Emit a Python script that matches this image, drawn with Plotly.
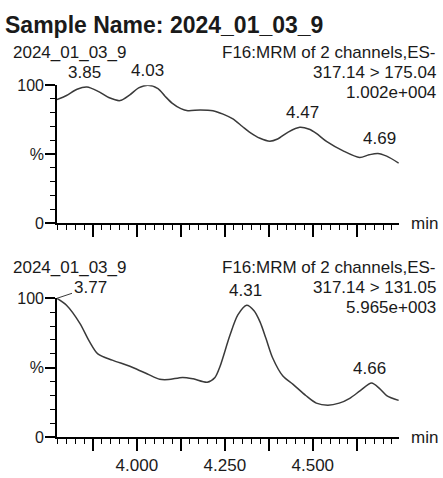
import plotly.graph_objects as go

# Chromatogram 1: MRM 317.14 > 175.04
t_175 = [3.773, 3.80, 3.83, 3.858, 3.89, 3.92, 3.952, 3.98, 4.005, 4.031, 4.06, 4.08,
         4.10, 4.125, 4.145, 4.18, 4.216, 4.245, 4.273, 4.30, 4.32, 4.35, 4.378, 4.40,
         4.43, 4.463, 4.49, 4.51, 4.54, 4.585, 4.633, 4.66, 4.685, 4.71, 4.744]
i_175 = [89.5, 92.5, 97, 98.6, 95.5, 91, 88.8, 93, 98, 100, 97.5, 92,
         87, 83, 81.5, 82, 81.5, 79, 75.5, 70, 66, 61.5, 59.4, 61,
         66, 69.5, 68, 65, 59, 52.5, 47.5, 49.5, 50.5, 48.5, 43.5]
peaks_175 = [(3.85, 98.6), (4.03, 100), (4.47, 69.5), (4.69, 50.5)]

# Chromatogram 2: MRM 317.14 > 131.05
t_131 = [3.773, 3.80, 3.838, 3.865, 3.889, 3.93, 3.97, 3.99, 4.03, 4.065, 4.09, 4.13,
         4.16, 4.20, 4.222, 4.236, 4.264, 4.287, 4.312, 4.333, 4.35, 4.367, 4.386, 4.415,
         4.444, 4.48, 4.51, 4.543, 4.575, 4.605, 4.635, 4.667, 4.69, 4.71, 4.744]
i_131 = [100, 95, 82, 69, 60, 55.5, 52, 50, 45.5, 41.7, 41.5, 43,
         42, 39.6, 43, 50.7, 73, 88, 95, 91, 83, 71, 57, 44,
         38, 30, 24.5, 23, 24.5, 28, 33.5, 39, 35, 30, 26.5]
peaks_131 = [(4.31, 95), (4.66, 39)]

sample = "2024_01_03_9"
func = "F16:MRM of 2 channels,ES-"
trans = ["317.14 > 175.04", "317.14 > 131.05"]
scales = ["1.002e+004", "5.965e+003"]

x_major = [3.875, 4.0, 4.125, 4.25, 4.375, 4.5, 4.625]
x_labels = ["", "4.000", "", "4.250", "", "4.500", ""]

W, H = 443, 478
FONT = "Liberation Sans, Arial, sans-serif"
INK = "#1a1a1a"


def px(x):
    return x / W


def py(y):
    return 1 - y / H


fig = go.Figure()
fig.add_trace(go.Scatter(x=t_175, y=i_175, mode="lines", xaxis="x", yaxis="y",
                         line=dict(color="#3a3a3a", width=1.5, shape="spline", smoothing=0.8),
                         cliponaxis=False, hoverinfo="skip"))
fig.add_trace(go.Scatter(x=t_131, y=i_131, mode="lines", xaxis="x2", yaxis="y2",
                         line=dict(color="#3a3a3a", width=1.5, shape="spline", smoothing=0.8),
                         cliponaxis=False, hoverinfo="skip"))

xrange = [3.773, 4.745]
common_x = dict(range=xrange, showgrid=False, zeroline=False, showline=True,
                linecolor="black", linewidth=1.6, ticks="outside", ticklen=12,
                tickwidth=1.5, tickcolor="black", tickmode="array", tickvals=x_major,
                minor=dict(tick0=4.0, dtick=0.025, ticks="outside", ticklen=5,
                           tickwidth=1.3, tickcolor="black"),
                tickfont=dict(family=FONT, size=17, color=INK))
common_y = dict(range=[0, 100], showgrid=False, zeroline=False, showline=True,
                linecolor="black", linewidth=1.6, ticks="outside", ticklen=10,
                tickwidth=1.5, tickcolor="black", tickmode="array",
                tickvals=[0, 50, 100], ticktext=["0", "%", "100"],
                ticklabelstandoff=-2,
                minor=dict(tick0=0, dtick=10, ticks="outside", ticklen=5,
                           tickwidth=1.3, tickcolor="black"),
                tickfont=dict(family=FONT, size=16, color=INK))

xd = [px(57), px(399)]
fig.update_layout(
    width=W, height=H, margin=dict(l=0, r=0, t=0, b=0),
    paper_bgcolor="white", plot_bgcolor="white", showlegend=False,
    xaxis=dict(domain=xd, anchor="y", ticktext=[""] * len(x_major), **common_x),
    yaxis=dict(domain=[py(223), py(80)], anchor="x", **common_y),
    xaxis2=dict(domain=xd, anchor="y2", ticktext=x_labels, **common_x),
    yaxis2=dict(domain=[py(445), py(301)], anchor="x2", **common_y),
)

ann = []


def text(x, y, s, size=17, xanchor="left", bold=False):
    ann.append(dict(x=px(x), y=py(y), xref="paper", yref="paper", text=f"<b>{s}</b>" if bold else s,
                    showarrow=False, xanchor=xanchor, yanchor="middle",
                    font=dict(family=FONT, size=size, color=INK)))


text(3, 18, "Sample Name: " + sample, size=23, bold=True)
for top, tr, sc in [(46, trans[0], scales[0]), (269, trans[1], scales[1])]:
    text(11, top, sample)
    text(438, top, func, xanchor="right")
    text(438, top + 21, tr, xanchor="right")
    text(438, top + 42, sc, xanchor="right")
text(409, 223, "min")
text(409, 445, "min")

for (t, v) in peaks_175:
    ann.append(dict(x=t, y=v, xref="x", yref="y", text=f"{t:.2f}", showarrow=False,
                    yanchor="bottom", yshift=3, font=dict(family=FONT, size=17, color=INK)))
for (t, v) in peaks_131:
    ann.append(dict(x=t, y=v, xref="x2", yref="y2", text=f"{t:.2f}", showarrow=False,
                    yanchor="bottom", yshift=3, font=dict(family=FONT, size=17, color=INK)))
# leader for the peak at the start of the window
ann.append(dict(x=3.773, y=100, xref="x2", yref="y2", text="3.77", showarrow=True,
                arrowhead=0, arrowwidth=1, arrowcolor="#3a3a3a", ax=33, ay=-11,
                font=dict(family=FONT, size=17, color=INK)))

fig.update_layout(annotations=ann)
fig.write_html("out.html")
